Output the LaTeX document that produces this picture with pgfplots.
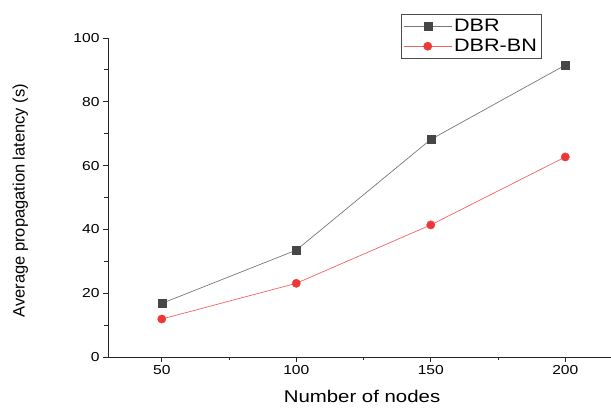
\documentclass[border=0pt]{standalone}
\usepackage{pgfplots}
\pgfplotsset{compat=1.18}
\usepackage{fontspec}
\setmainfont{Liberation Sans}[FakeStretch=1.2]
\newfontfamily\ylabfont{Liberation Sans}
\usetikzlibrary{calc}
\definecolor{dbrline}{RGB}{120,120,120}
\definecolor{dbrmark}{RGB}{70,70,70}
\definecolor{bnline}{RGB}{240,100,100}
\definecolor{bnmark}{RGB}{238,55,55}
\begin{document}
\begin{tikzpicture}
\begin{axis}[
  name=ax,
  scale only axis,
  width=503pt, height=319pt,
  xmin=30, xmax=217, ymin=0, ymax=100,
  axis lines=left,
  axis line style={-, black!85, line width=0.8pt},
  xtick={50,100,150,200},
  ytick={0,20,40,60,80,100},
  minor x tick num=1, minor y tick num=1,
  tick align=outside,
  major tick length=5pt, minor tick length=3.5pt,
  tick style={black!85, line width=0.8pt},
  /pgf/number format/assume math mode=true,
  ticklabel style={font=\fontsize{13}{13}\selectfont},
  xlabel={Number of nodes},
  ylabel={\ylabfont Average propagation latency (s)},
  xlabel style={font=\fontsize{17}{17}\selectfont, at={(axis description cs:0.505,-0.125)}, anchor=center},
  ylabel style={font=\fontsize{16.5}{16.5}\selectfont, at={(axis description cs:-0.174,0.49)}, anchor=center},
  clip=false,
  legend style={at={(rel axis cs:0.5825,1.0752)}, anchor=north west, draw=black!70, line width=0.8pt, fill=white,
    font=\fontsize{18}{18}\selectfont, inner xsep=2pt, inner ysep=3pt, row sep=2pt,
    /tikz/every even column/.append style={column sep=4pt}},
  legend cell align=left,
  legend image code/.code={\draw[mark repeat=2,mark phase=2,#1] plot coordinates {(0pt,0pt) (24pt,0pt) (48pt,0pt)};},
]
\addplot[color=dbrline, line width=0.7pt, mark=square*, mark size=4pt, mark options={fill=dbrmark, draw=dbrmark, line width=0.3pt}]
  coordinates {(50,16.8) (100,33.5) (150,68.2) (200,91.5)};
\addlegendentry{DBR}
\addplot[color=bnline, line width=0.7pt, mark=*, mark size=4.2pt, mark options={fill=bnmark, draw=bnmark, line width=0.3pt}]
  coordinates {(50,11.9) (100,23.1) (150,41.4) (200,62.7)};
\addlegendentry{DBR-BN}
\end{axis}
\pgfresetboundingbox
\path ($(ax.south west)+(-108pt,-51pt)$) rectangle ($(ax.north east)+(0pt,38pt)$);
\end{tikzpicture}
\end{document}
